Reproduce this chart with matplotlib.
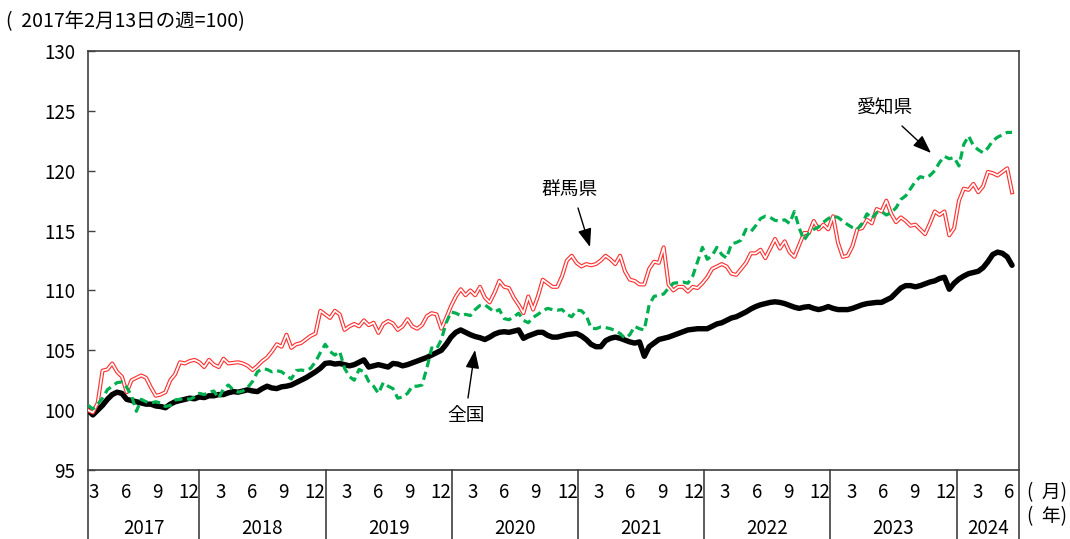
import numpy as np
import pandas as pd
import matplotlib
matplotlib.use("Agg")
import matplotlib.pyplot as plt
from matplotlib.lines import Line2D
import matplotlib.transforms as mtransforms

plt.rcParams['font.family'] = ['Noto Sans CJK JP', 'DejaVu Sans']

# ---------------- data (biweekly, from week of 2017-02-13) ----------------
start_date = "2017-02-13"
n_points = 192

zenkoku = [
    100.0, 99.6, 100.0, 100.4, 100.9, 101.3, 101.5, 101.4, 100.9, 100.8,
    100.7, 100.6, 100.5, 100.5, 100.35, 100.3, 100.2, 100.5, 100.7, 100.8,
    100.9, 101.0, 100.95, 101.1, 101.05, 101.2, 101.2, 101.3, 101.3, 101.45,
    101.55, 101.5, 101.6, 101.7, 101.6, 101.55, 101.8, 102.0, 101.85, 101.8,
    101.95, 102.0, 102.1, 102.3, 102.5, 102.7, 102.95, 103.2, 103.5, 103.9,
    103.95, 103.85, 103.9, 103.8, 103.7, 103.8, 104.0, 104.2, 103.6, 103.7,
    103.8, 103.7, 103.6, 103.9, 103.85, 103.7, 103.8, 103.95, 104.1, 104.25,
    104.4, 104.6, 104.8, 105.0, 105.5, 106.1, 106.5, 106.7, 106.5, 106.3,
    106.15, 106.05, 105.9, 106.1, 106.35, 106.5, 106.55, 106.5, 106.6, 106.7,
    106.0, 106.2, 106.35, 106.5, 106.5, 106.25, 106.1, 106.1, 106.2, 106.3,
    106.35, 106.4, 106.2, 105.9, 105.5, 105.3, 105.3, 105.8, 106.0, 106.1,
    106.0, 105.85, 105.7, 105.6, 105.7, 104.5, 105.3, 105.6, 105.9, 106.0,
    106.1, 106.25, 106.4, 106.55, 106.7, 106.75, 106.8, 106.8, 106.8, 107.0,
    107.2, 107.3, 107.5, 107.7, 107.8, 108.0, 108.2, 108.45, 108.65, 108.8,
    108.9, 109.0, 109.05, 109.0, 108.9, 108.75, 108.6, 108.5, 108.6, 108.65,
    108.5, 108.4, 108.5, 108.65, 108.5, 108.4, 108.4, 108.4, 108.5, 108.65,
    108.8, 108.9, 108.95, 109.0, 109.0, 109.2, 109.4, 109.8, 110.2, 110.4,
    110.4, 110.3, 110.4, 110.55, 110.7, 110.8, 111.0, 111.1, 110.1, 110.6,
    110.95, 111.2, 111.4, 111.5, 111.6, 111.9, 112.4, 113.0, 113.2, 113.1,
    112.8, 112.1,
]

gunma = [
    100.0, 99.8, 100.6, 103.3, 103.4, 103.9, 103.2, 102.8, 101.5, 102.5,
    102.7, 102.9, 102.7, 101.9, 101.2, 101.3, 101.5, 102.5, 103.0, 104.0,
    103.9, 104.1, 104.2, 104.0, 103.6, 104.2, 103.8, 103.6, 104.3, 103.9,
    103.95, 104.0, 103.9, 103.7, 103.35, 103.7, 104.1, 104.4, 104.9, 105.5,
    105.3, 106.3, 105.2, 105.5, 105.6, 105.9, 106.2, 106.4, 108.3, 108.0,
    107.7, 108.3, 108.0, 106.7, 107.0, 107.2, 107.0, 107.5, 107.1, 107.3,
    106.45, 107.2, 107.45, 107.25, 106.7, 107.0, 107.6, 107.0, 106.8, 107.1,
    107.85, 108.1, 108.0, 106.8, 107.7, 108.7, 109.5, 110.1, 109.6, 110.0,
    109.6, 110.3, 109.4, 109.0, 109.8, 110.8, 110.3, 110.2, 109.4, 108.8,
    108.1, 109.5, 108.4, 109.5, 110.9, 110.6, 110.3, 110.3, 111.2, 112.5,
    112.9, 112.3, 112.0, 112.2, 112.1, 112.2, 112.5, 112.9, 112.6, 112.2,
    112.9, 111.6, 110.9, 110.8, 110.5, 110.5, 111.8, 112.4, 112.3, 113.6,
    110.5, 110.0, 110.3, 110.3, 109.9, 110.3, 110.2, 110.6, 111.1, 111.8,
    112.0, 112.2, 112.0, 111.4, 111.3, 111.8, 112.3, 113.1, 113.1, 113.4,
    112.7, 113.5, 114.3, 113.5, 114.1, 113.2, 112.8, 113.8, 114.8, 114.8,
    115.8, 115.1, 115.5, 115.1, 116.2, 114.0, 112.8, 112.9, 113.7, 115.1,
    115.2, 115.9, 115.6, 116.8, 116.6, 117.5, 116.4, 115.7, 116.1, 115.8,
    115.4, 115.5, 115.1, 114.7, 115.6, 116.6, 116.3, 116.6, 114.6, 115.2,
    117.5, 118.5, 118.4, 118.9, 118.2, 118.7, 119.9, 119.8, 119.6, 119.9,
    120.2, 118.2,
]

aichi = [
    100.4, 100.1, 100.5, 101.0, 101.7, 102.0, 102.3, 102.35, 101.9, 101.2,
    99.9, 100.9, 100.7, 100.6, 100.7, 100.6, 100.3, 100.4, 100.85, 100.9,
    101.0, 100.9, 101.1, 101.4, 101.3, 101.5, 101.6, 101.0, 101.8, 102.1,
    101.7, 101.5, 101.6, 101.9, 102.4, 103.2, 103.45, 103.4, 103.2, 103.3,
    103.2, 102.9, 102.6, 103.3, 103.35, 103.3, 103.5, 104.05, 104.8, 105.5,
    104.9, 104.6, 104.9, 103.5, 102.8, 102.5, 103.4, 103.2, 102.4, 102.0,
    101.4, 102.3, 102.0, 101.8, 101.0, 101.1, 101.4, 102.0, 102.0, 102.1,
    103.5, 105.2, 105.1, 105.9, 107.3, 108.2, 108.1, 107.9, 108.0, 107.9,
    108.4, 108.75, 108.8, 108.5, 108.2, 108.4, 107.65, 107.55, 107.8, 108.1,
    107.5, 107.3, 107.75, 108.0, 108.3, 108.5, 108.4, 108.35, 108.4, 108.0,
    107.8, 108.35, 108.3, 107.9, 106.85, 106.8, 106.95, 106.9, 106.8, 106.65,
    106.4, 106.0, 106.3, 107.0, 106.8, 106.7, 108.8, 109.5, 109.6, 109.7,
    110.2, 110.6, 110.65, 110.7, 110.6, 111.2, 112.4, 113.6, 112.6, 112.9,
    113.6, 113.0, 112.7, 113.9, 114.0, 114.2, 115.1, 114.9, 115.4, 116.0,
    116.2, 116.1, 115.85, 115.8, 115.9, 115.6, 116.6, 115.2, 114.2, 114.8,
    115.1, 115.3, 115.7, 116.0, 116.2, 116.1, 115.8, 115.5, 115.25, 115.1,
    115.6, 116.4, 116.0, 116.5, 116.6, 116.3, 116.5, 116.9, 117.6, 117.9,
    118.5, 119.1, 119.5, 119.4, 119.6, 120.0, 120.7, 121.2, 121.0, 121.1,
    120.4, 122.2, 122.9, 122.1, 121.75, 121.5, 121.9, 122.5, 122.8, 123.0,
    123.2, 123.2,
]

years = [2017, 2018, 2019, 2020, 2021, 2022, 2023, 2024]
month_ticks = [3, 6, 9, 12]
last_year_months = [3, 6]
y_ticks = [95, 100, 105, 110, 115, 120, 125, 130]

title_text = "(  2017年2月13日の週=100)"
label_aichi = "愛知県"
label_gunma = "群馬県"
label_zenkoku = "全国"
month_unit = "(  月)"
year_unit = "(  年)"

# ---------------- x positions (fractional years) ----------------
dates = pd.date_range(start_date, periods=n_points, freq="14D")
days_in_year = np.where(dates.is_leap_year, 366.0, 365.0)
xpos = dates.year + (dates.dayofyear - 1) / days_in_year
x_left = float(xpos[0])
x_right = 2024.495

# ---------------- figure ----------------
W, H = 1070, 539
fig = plt.figure(figsize=(W / 100, H / 100), dpi=100)
ax_l, ax_r, ax_t, ax_b = 88, 1019, 51, 470
ax = fig.add_axes([ax_l / W, 1 - ax_b / H, (ax_r - ax_l) / W, (ax_b - ax_t) / H])

spine_col = "#404040"
FS = 13.5

# series
ax.plot(xpos, zenkoku, color="black", lw=3.9, solid_capstyle="round",
        solid_joinstyle="round", zorder=3)
ax.plot(xpos, gunma, color="#ff3030", lw=2.9, solid_joinstyle="round", zorder=4)
ax.plot(xpos, gunma, color="white", lw=1.25, solid_joinstyle="round", zorder=5)
ax.plot(xpos, aichi, color="#00b050", lw=2.3, linestyle=(0, (2.6, 1.5)),
        dash_capstyle="butt", zorder=6)

ax.set_xlim(x_left, x_right)
ax.set_ylim(95, 130)
ax.set_yticks(y_ticks)
ax.set_yticklabels([str(v) for v in y_ticks], fontsize=FS)
ax.tick_params(axis="y", direction="in", length=5, width=1, color=spine_col, pad=9)
ax.set_xticks([])
for s in ax.spines.values():
    s.set_color(spine_col)
    s.set_linewidth(1.2)

# ---------------- custom x axis ----------------
trans = mtransforms.blended_transform_factory(ax.transData, ax.transAxes)
month_y = -(493 - ax_b) / (ax_b - ax_t)
year_y = -(529 - ax_b) / (ax_b - ax_t)
bottom_y = -(H - ax_b) / (ax_b - ax_t)

seps = [x_left] + years[1:] + [x_right]
for xs in seps:
    ax.add_line(Line2D([xs, xs], [0, bottom_y], transform=trans, color=spine_col,
                       lw=1.2, clip_on=False))

for yr in years:
    months = last_year_months if yr == years[-1] else month_ticks
    for m in months:
        ax.text(yr + (m - 1) / 12, month_y, str(m), transform=trans, ha="center",
                va="center", fontsize=FS)
    lo = max(yr, x_left)
    hi = min(yr + 1, x_right)
    ax.text((lo + hi) / 2, year_y, str(yr), transform=trans, ha="center",
            va="center", fontsize=FS)

fig.text(1027 / W, 1 - 493 / H, month_unit, ha="left", va="center", fontsize=FS)
fig.text(1027 / W, 1 - 517 / H, year_unit, ha="left", va="center", fontsize=FS)

# title
fig.text(6 / W, 1 - 22 / H, title_text, ha="left", va="center", fontsize=14)


# ---------------- labels with arrows ----------------
def fpx(x, y):
    return (x / W, 1 - y / H)


arrow_kw = dict(arrowstyle="-|>,head_length=0.8,head_width=0.3", color="black",
                lw=1.0, mutation_scale=14, shrinkA=0, shrinkB=0)

fig.text(*fpx(885, 108), label_aichi, ha="center", va="center", fontsize=FS)
ax.annotate("", xy=fpx(931, 153), xytext=fpx(902, 126), xycoords="figure fraction",
            textcoords="figure fraction", arrowprops=arrow_kw, zorder=10)

fig.text(*fpx(570, 190), label_gunma, ha="center", va="center", fontsize=FS)
ax.annotate("", xy=fpx(590, 247), xytext=fpx(578, 208), xycoords="figure fraction",
            textcoords="figure fraction", arrowprops=arrow_kw, zorder=10)

fig.text(*fpx(466, 416), label_zenkoku, ha="center", va="center", fontsize=FS)
ax.annotate("", xy=fpx(475, 350), xytext=fpx(468, 398), xycoords="figure fraction",
            textcoords="figure fraction", arrowprops=arrow_kw, zorder=10)

fig.savefig("out.png", dpi=100)
